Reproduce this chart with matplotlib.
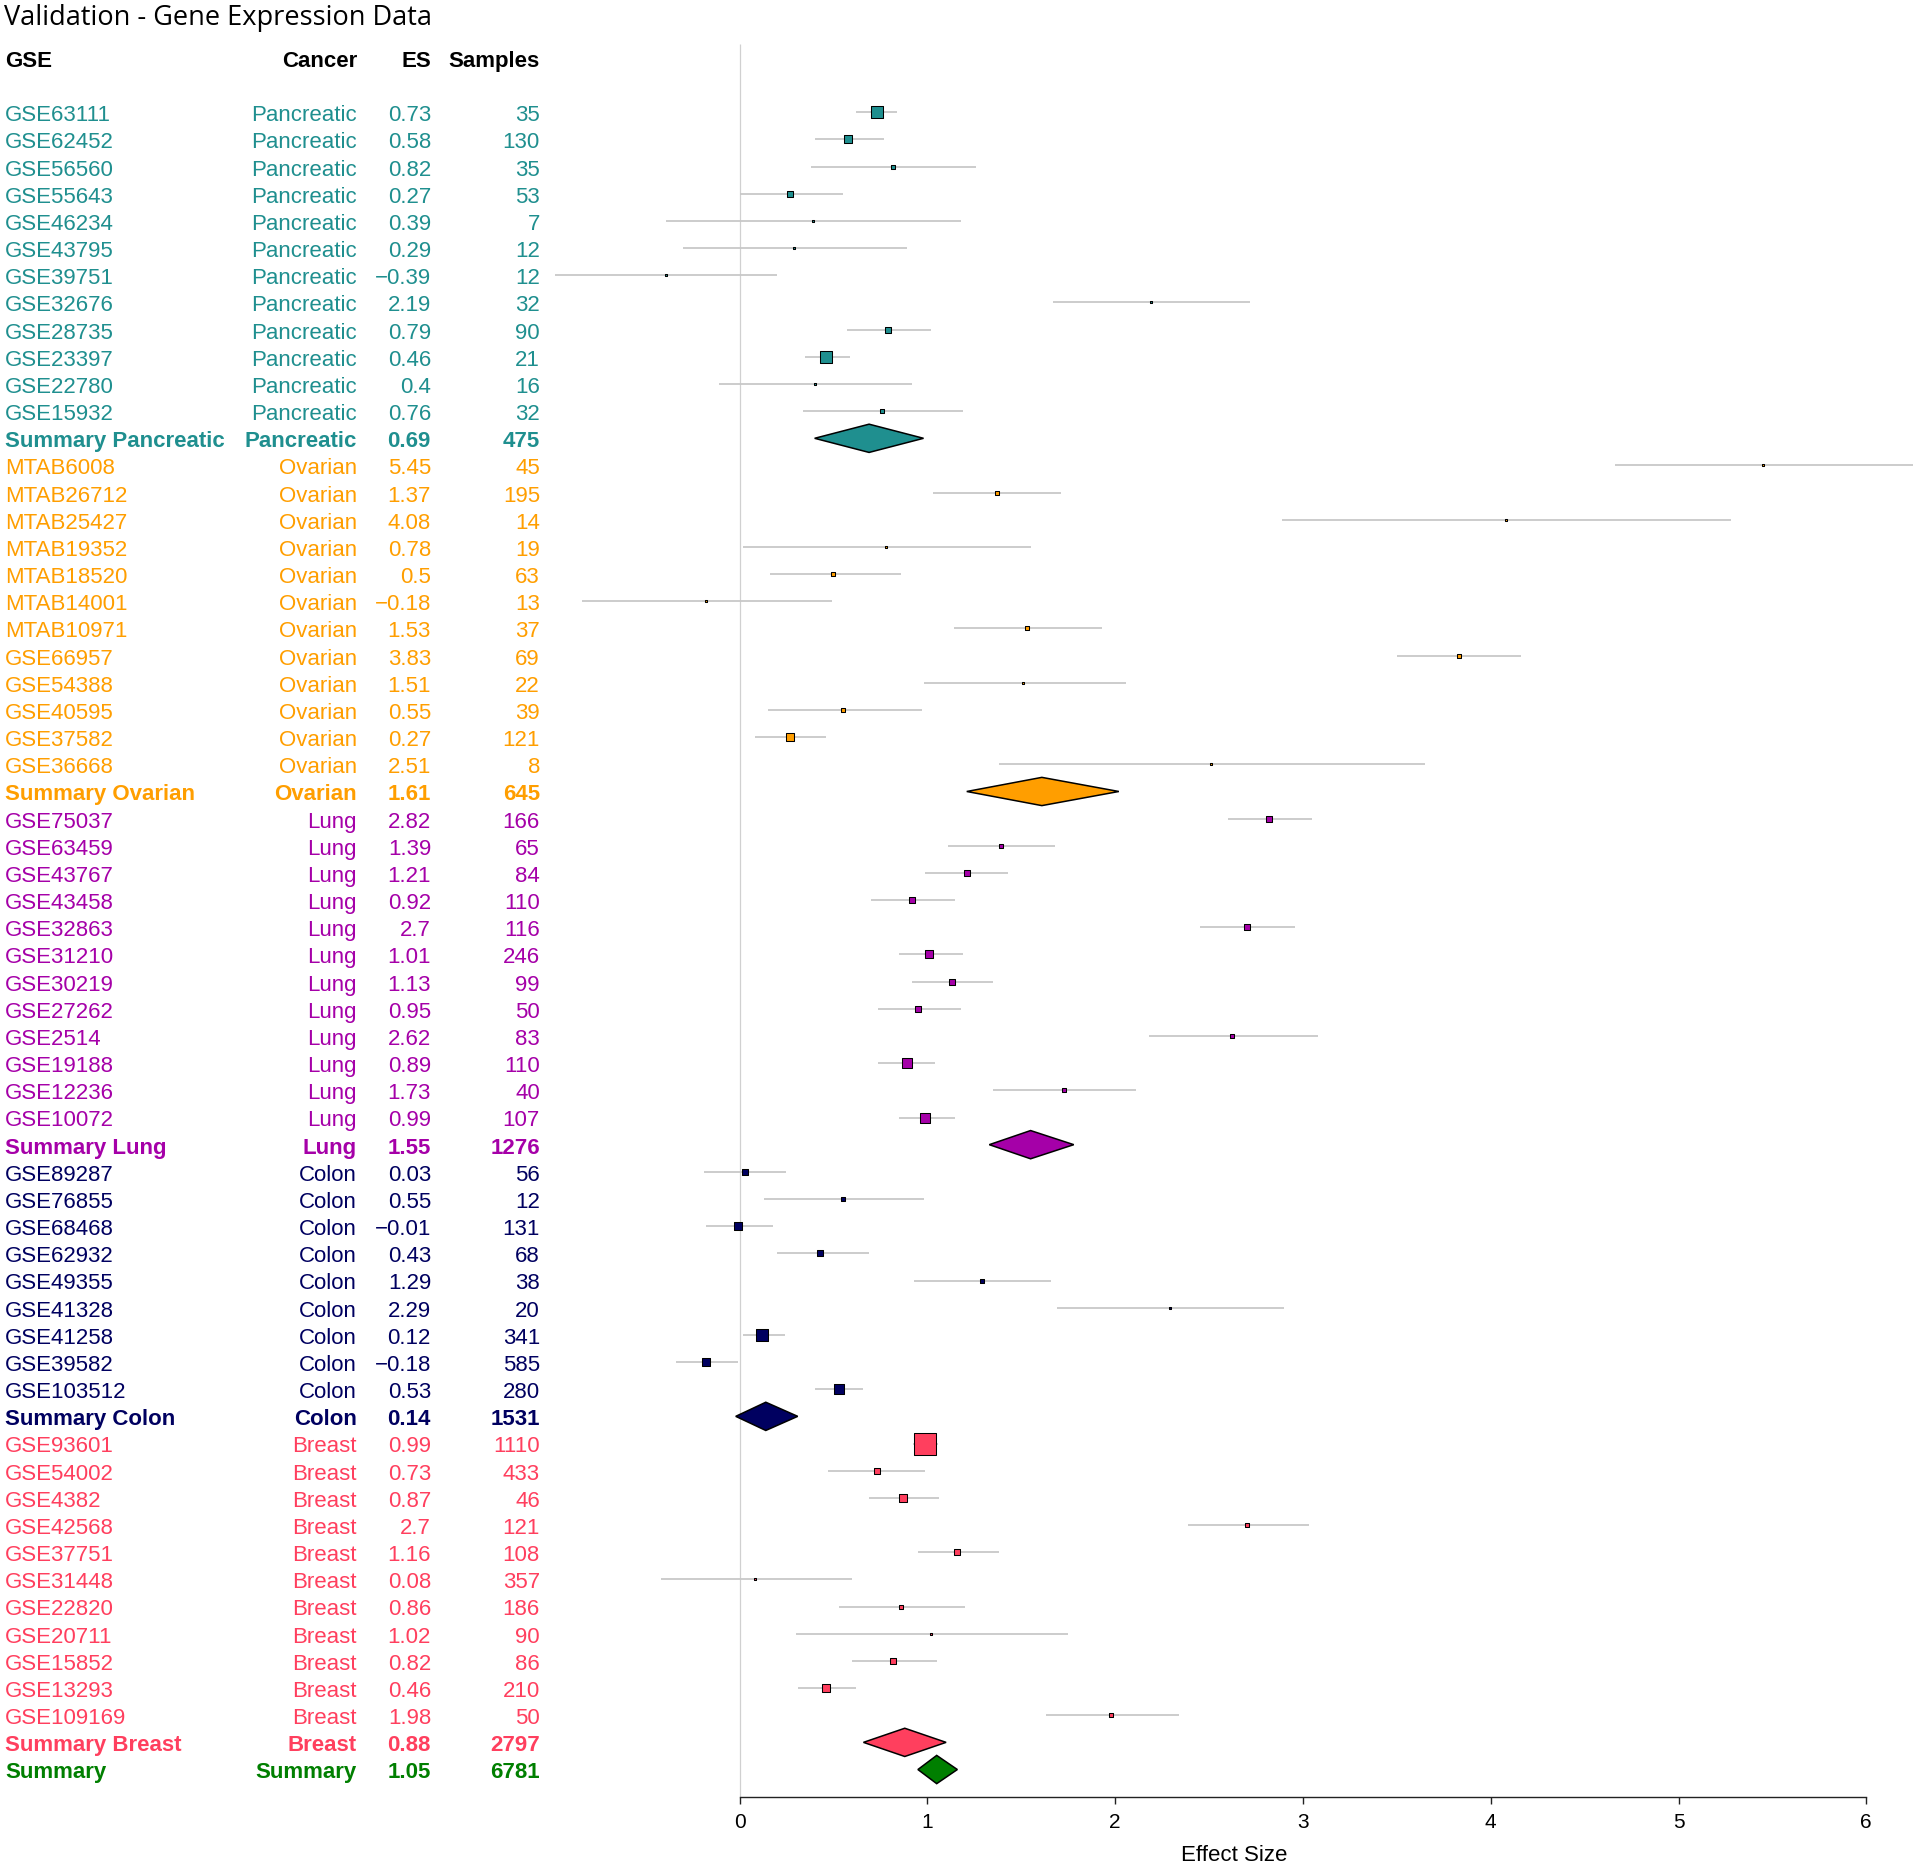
import matplotlib.pyplot as plt
import matplotlib.transforms as mtransforms

# one entry per row, top to bottom
study = ['GSE63111', 'GSE62452', 'GSE56560', 'GSE55643', 'GSE46234', 'GSE43795', 'GSE39751',
         'GSE32676', 'GSE28735', 'GSE23397', 'GSE22780', 'GSE15932', 'Summary Pancreatic',
         'MTAB6008', 'MTAB26712', 'MTAB25427', 'MTAB19352', 'MTAB18520', 'MTAB14001', 'MTAB10971',
         'GSE66957', 'GSE54388', 'GSE40595', 'GSE37582', 'GSE36668', 'Summary Ovarian',
         'GSE75037', 'GSE63459', 'GSE43767', 'GSE43458', 'GSE32863', 'GSE31210', 'GSE30219',
         'GSE27262', 'GSE2514', 'GSE19188', 'GSE12236', 'GSE10072', 'Summary Lung',
         'GSE89287', 'GSE76855', 'GSE68468', 'GSE62932', 'GSE49355', 'GSE41328', 'GSE41258',
         'GSE39582', 'GSE103512', 'Summary Colon',
         'GSE93601', 'GSE54002', 'GSE4382', 'GSE42568', 'GSE37751', 'GSE31448', 'GSE22820',
         'GSE20711', 'GSE15852', 'GSE13293', 'GSE109169', 'Summary Breast',
         'Summary']
cancer = ['Pancreatic'] * 13 + ['Ovarian'] * 13 + ['Lung'] * 13 + ['Colon'] * 10 + ['Breast'] * 12 + ['Summary']
es = [0.73, 0.58, 0.82, 0.27, 0.39, 0.29, -0.39, 2.19, 0.79, 0.46, 0.4, 0.76, 0.69,
      5.45, 1.37, 4.08, 0.78, 0.5, -0.18, 1.53, 3.83, 1.51, 0.55, 0.27, 2.51, 1.61,
      2.82, 1.39, 1.21, 0.92, 2.7, 1.01, 1.13, 0.95, 2.62, 0.89, 1.73, 0.99, 1.55,
      0.03, 0.55, -0.01, 0.43, 1.29, 2.29, 0.12, -0.18, 0.53, 0.14,
      0.99, 0.73, 0.87, 2.7, 1.16, 0.08, 0.86, 1.02, 0.82, 0.46, 1.98, 0.88,
      1.05]
ci_low = [0.62, 0.40, 0.38, 0.00, -0.39, -0.30, -0.98, 1.67, 0.57, 0.35, -0.11, 0.34, 0.40,
          4.66, 1.03, 2.89, 0.02, 0.16, -0.84, 1.14, 3.50, 0.98, 0.15, 0.08, 1.38, 1.21,
          2.60, 1.11, 0.99, 0.70, 2.45, 0.85, 0.92, 0.74, 2.18, 0.74, 1.35, 0.85, 1.33,
          -0.19, 0.13, -0.18, 0.20, 0.93, 1.69, 0.02, -0.34, 0.40, -0.02,
          0.925, 0.47, 0.69, 2.39, 0.95, -0.42, 0.53, 0.30, 0.60, 0.31, 1.63, 0.66,
          0.95]
ci_high = [0.84, 0.77, 1.26, 0.55, 1.18, 0.89, 0.20, 2.72, 1.02, 0.59, 0.92, 1.19, 0.98,
           6.25, 1.71, 5.28, 1.55, 0.86, 0.49, 1.93, 4.16, 2.06, 0.97, 0.46, 3.65, 2.02,
           3.05, 1.68, 1.43, 1.15, 2.96, 1.19, 1.35, 1.18, 3.08, 1.04, 2.11, 1.15, 1.78,
           0.25, 0.98, 0.18, 0.69, 1.66, 2.90, 0.24, -0.01, 0.66, 0.31,
           1.055, 0.99, 1.06, 3.03, 1.38, 0.60, 1.20, 1.75, 1.05, 0.62, 2.34, 1.10,
           1.16]
samples = [35, 130, 35, 53, 7, 12, 12, 32, 90, 21, 16, 32, 475,
           45, 195, 14, 19, 63, 13, 37, 69, 22, 39, 121, 8, 645,
           166, 65, 84, 110, 116, 246, 99, 50, 83, 110, 40, 107, 1276,
           56, 12, 131, 68, 38, 20, 341, 585, 280, 1531,
           1110, 433, 46, 121, 108, 357, 186, 90, 86, 210, 50, 2797,
           6781]

colors = {'Pancreatic': '#1F8F8F', 'Ovarian': '#FF9E00', 'Lung': '#A500A8',
          'Colon': '#000060', 'Breast': '#FF3F5E', 'Summary': '#007F00'}

fig = plt.figure(figsize=(19.2, 18.65), dpi=100)
ax = fig.add_axes([0, 67.3 / 1865, 1, 1 - 67.3 / 1865])
ax.set_xlim(-739.5 / 187.8, (1920 - 739.5) / 187.8)
ax.set_ylim(62, -4.17)

body = 'Liberation Sans'
fs = 16
tx = mtransforms.blended_transform_factory(fig.transFigure, ax.transData)
cols = [(5 / 1920, 'left'), (357 / 1920, 'right'), (431 / 1920, 'right'), (540 / 1920, 'right')]

ax.vlines(0, -2.5, 62, color='#d0d0d0', lw=0.9, zorder=1)

for row, (name, c, v, lo, hi, n) in enumerate(zip(study, cancer, es, ci_low, ci_high, samples)):
    color = colors[c]
    summ = name.startswith('Summary')
    weight = 'bold' if summ else 'normal'
    es_txt = f'{v:g}'.replace('-', '\u2212')
    for (x, ha), s in zip(cols, [name, c, es_txt, str(n)]):
        ax.text(x, row + 0.29, s, transform=tx, ha=ha, va='baseline', color=color,
                fontsize=fs, fontweight=weight, family=body)
    if summ:
        ax.fill([lo, v, hi, v], [row, row - 0.52, row, row + 0.52], facecolor=color,
                edgecolor='black', lw=1.1, zorder=3)
    else:
        ax.hlines(row, lo, hi, color='#c8c8c8', lw=1.3, zorder=2)
        # box side ~ 1/SE (in px), with a small floor so tiny studies stay visible
        side = max(1.38 / ((hi - lo) / 2), 2.6) * 0.72
        ax.scatter([v], [row], s=side ** 2, marker='s', facecolor=color,
                   edgecolor='black', linewidth=0.75, zorder=3)

# column headers and title
for (x, ha), s in zip(cols, ['GSE', 'Cancer', 'ES', 'Samples']):
    ax.text(x, -2 + 0.29, s, transform=tx, ha=ha, va='baseline', fontsize=fs,
            fontweight='bold', family=body)
fig.text(4 / 1920, 1 - 25 / 1865, 'Validation - Gene Expression Data', ha='left',
         va='baseline', fontsize=19.5, family='Open Sans')

for side_name in ['top', 'left', 'right']:
    ax.spines[side_name].set_visible(False)
ax.spines['bottom'].set_bounds(0, 6)
ax.spines['bottom'].set_linewidth(1.0)
ax.spines['bottom'].set_color('#222222')
ax.set_xticks(range(7))
ax.tick_params(axis='x', length=5, width=1.0, color='#222222', pad=6, labelsize=15)
for lab in ax.get_xticklabels():
    lab.set_family(body)
ax.set_yticks([])
ax.text((min(ci_low) + max(ci_high)) / 2, 64.32, 'Effect Size', ha='center', va='baseline',
        fontsize=16, family=body)

fig.savefig('out.png', dpi=100)
